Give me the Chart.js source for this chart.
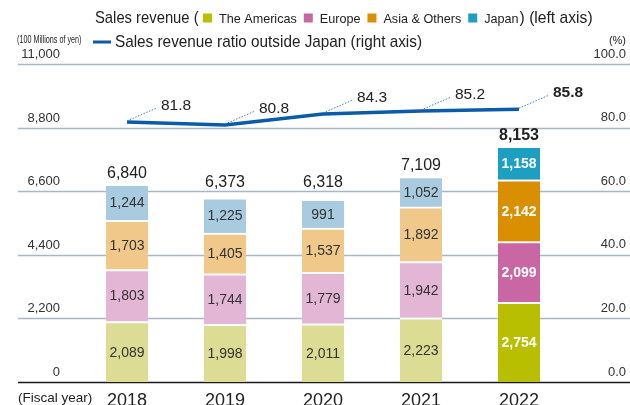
<!DOCTYPE html>
<html>
<head>
<meta charset="utf-8">
<script src="https://cdn.jsdelivr.net/npm/chart.js@4/dist/chart.umd.min.js"></script>
<style>
  html, body { margin: 0; padding: 0; background: #fff; }
  #wrap { width: 630px; height: 405px; }
</style>
</head>
<body>
<div id="wrap"><canvas id="salesChart" width="630" height="405"></canvas></div>
<script>
const years = ['2018', '2019', '2020', '2021', '2022'];
const americas = [2089, 1998, 2011, 2223, 2754];
const europe = [1803, 1744, 1779, 1942, 2099];
const asiaOthers = [1703, 1405, 1537, 1892, 2142];
const japan = [1244, 1225, 991, 1052, 1158];
const totals = [6840, 6373, 6318, 7109, 8153];
const ratioOutsideJapan = [81.8, 80.8, 84.3, 85.2, 85.8];
const leftTicks = [0, 2200, 4400, 6600, 8800, 11000];
const rightTicks = [0, 20, 40, 60, 80, 100];

const FONT = '"Liberation Sans", Arial, sans-serif';
const lineColor = '#0b5bab';
// pale tones for past years, strong tones for the latest year
const palette = {
    americas: ['#dcdc94', '#b7bf00'],
    europe: ['#e4b6d5', '#c966a4'],
    asia: ['#efc88a', '#d98f00'],
    japan: ['#a9cbdf', '#1d9fc1'],
};
const colorsFor = (key) => years.map((y, i) => i === years.length - 1 ? palette[key][1] : palette[key][0]);
const fmt = (v) => v.toLocaleString('en-US');

function barSet(label, data, key) {
    return {
        type: 'bar',
        label,
        data,
        backgroundColor: colorsFor(key),
        borderColor: '#ffffff',
        borderWidth: { top: 2, left: 0, right: 0, bottom: 0 },
        borderSkipped: false,
        barThickness: 42,
        yAxisID: 'y',
        stack: 'sales',
        order: 2,
    };
}

// narrow text: squeeze to a target width like the condensed face of the original
function narrowText(ctx, text, x, y, ratio) {
    const w = ctx.measureText(text).width * ratio;
    ctx.fillText(text, x, y, w);
    return w;
}

const backgroundPlugin = {
    id: 'background',
    beforeDatasetsDraw(chart) {
        const { ctx } = chart;
        const y = chart.scales.y;
        const y1 = chart.scales.y1;
        ctx.save();
        leftTicks.forEach((v) => {
            const py = Math.round(y.getPixelForValue(v)) + 0.5;
            ctx.beginPath();
            ctx.strokeStyle = v === 0 ? '#1a1a1a' : '#aab6c2';
            ctx.lineWidth = 1.5;
            ctx.moveTo(18, py);
            ctx.lineTo(630, py);
            ctx.stroke();
            ctx.fillStyle = '#333';
            ctx.font = `13px ${FONT}`;
            ctx.textAlign = 'right';
            ctx.textBaseline = 'middle';
            ctx.fillText(fmt(v), 60, py - 10);
        });
        rightTicks.forEach((v) => {
            const py = y1.getPixelForValue(v);
            ctx.fillStyle = '#333';
            ctx.font = `13px ${FONT}`;
            ctx.textAlign = 'right';
            ctx.textBaseline = 'middle';
            ctx.fillText(v.toFixed(1), 626, py - 10);
        });
        ctx.restore();
    },
    afterDraw(chart) {
        const { ctx } = chart;
        ctx.save();
        ctx.fillStyle = '#222';
        ctx.textBaseline = 'middle';
        ctx.textAlign = 'left';

        // legend line 1
        const ly = 18;
        ctx.font = `17px ${FONT}`;
        narrowText(ctx, 'Sales revenue (', 95, ly, 0.87);
        let x = 203;
        const items = [
            ['The Americas', palette.americas[1]],
            ['Europe', palette.europe[1]],
            ['Asia & Others', palette.asia[1]],
            ['Japan', palette.japan[1]],
        ];
        items.forEach(([name, color], i) => {
            ctx.fillStyle = color;
            ctx.fillRect(x, ly - 4.5, 9, 9);
            x += 16;
            ctx.fillStyle = '#222';
            ctx.font = `13px ${FONT}`;
            x += narrowText(ctx, name, x, ly + 1, 0.97) + (i === items.length - 1 ? 1 : 7);
        });
        ctx.font = `17px ${FONT}`;
        narrowText(ctx, ') (left axis)', x, ly, 0.92);

        // legend line 2
        ctx.font = `10px ${FONT}`;
        narrowText(ctx, '(100 Millions of yen)', 17, 40, 0.72);
        ctx.fillStyle = lineColor;
        ctx.fillRect(93, 40.5, 18, 3);
        ctx.fillStyle = '#222';
        ctx.font = `17px ${FONT}`;
        narrowText(ctx, 'Sales revenue ratio outside Japan (right axis)', 115, 42, 0.9);
        ctx.font = `11px ${FONT}`;
        ctx.textAlign = 'right';
        ctx.fillText('(%)', 626, 41);

        ctx.textAlign = 'left';
        ctx.font = `13.5px ${FONT}`;
        ctx.fillText('(Fiscal year)', 18, 398);
        ctx.restore();
    }
};

const labelPlugin = {
    id: 'labels',
    afterDatasetsDraw(chart) {
        const { ctx } = chart;
        const yScale = chart.scales.y;
        const last = years.length - 1;
        ctx.save();
        ctx.textAlign = 'center';
        ctx.textBaseline = 'middle';
        chart.data.datasets.forEach((ds, di) => {
            const meta = chart.getDatasetMeta(di);
            if (ds.type === 'bar') {
                meta.data.forEach((bar, i) => {
                    const cy = (bar.y + bar.base) / 2 + 1;
                    ctx.fillStyle = i === last ? '#fff' : '#333';
                    ctx.font = `${i === last ? 'bold ' : ''}14px ${FONT}`;
                    ctx.fillText(fmt(ds.data[i]), bar.x, cy);
                });
            } else {
                meta.data.forEach((pt, i) => {
                    const lx = pt.x + 34;
                    const ly = pt.y - 16;
                    ctx.beginPath();
                    ctx.setLineDash([1.5, 1.5]);
                    ctx.strokeStyle = '#3a7fc8';
                    ctx.lineWidth = 1;
                    ctx.moveTo(pt.x, pt.y - 1);
                    ctx.lineTo(lx - 4, ly + 2);
                    ctx.stroke();
                    ctx.setLineDash([]);
                    ctx.fillStyle = '#222';
                    ctx.textAlign = 'left';
                    ctx.font = `${i === last ? 'bold ' : ''}15.5px ${FONT}`;
                    ctx.fillText(ds.data[i].toFixed(1), lx, ly);
                    ctx.textAlign = 'center';
                });
            }
        });
        // totals above the stacks, lifted clear of a gridline they would sit on
        const topMeta = chart.getDatasetMeta(3);
        topMeta.data.forEach((bar, i) => {
            let ty = bar.y - 11;
            leftTicks.forEach((v) => {
                const gy = yScale.getPixelForValue(v);
                if (gy > ty - 7 && gy < ty + 8) ty = gy - 9;
            });
            ctx.fillStyle = '#222';
            ctx.font = `${i === last ? 'bold ' : ''}16px ${FONT}`;
            ctx.fillText(fmt(totals[i]), bar.x, ty);
        });
        ctx.restore();
    }
};

new Chart(document.getElementById('salesChart').getContext('2d'), {
    data: {
        labels: years,
        datasets: [
            barSet('The Americas', americas, 'americas'),
            barSet('Europe', europe, 'europe'),
            barSet('Asia & Others', asiaOthers, 'asia'),
            barSet('Japan', japan, 'japan'),
            {
                type: 'line',
                label: 'Sales revenue ratio outside Japan',
                data: ratioOutsideJapan,
                borderColor: lineColor,
                borderWidth: 3.5,
                pointRadius: 0,
                tension: 0,
                yAxisID: 'y1',
                order: 1,
            }
        ]
    },
    options: {
        responsive: false,
        animation: false,
        layout: { padding: { left: 78, right: 62, top: 64, bottom: 0 } },
        plugins: {
            legend: { display: false },
            tooltip: { enabled: false },
        },
        scales: {
            x: {
                stacked: true,
                grid: { display: false, drawTicks: false },
                border: { display: false },
                ticks: {
                    padding: 8,
                    color: '#222',
                    font: { family: FONT, size: 18 },
                },
                afterFit: (s) => { s.height = 23; },
            },
            y: {
                display: false,
                stacked: true,
                min: 0,
                max: 11000,
            },
            y1: {
                display: false,
                position: 'right',
                min: 0,
                max: 100,
            }
        }
    },
    plugins: [backgroundPlugin, labelPlugin]
});
</script>
</body>
</html>
